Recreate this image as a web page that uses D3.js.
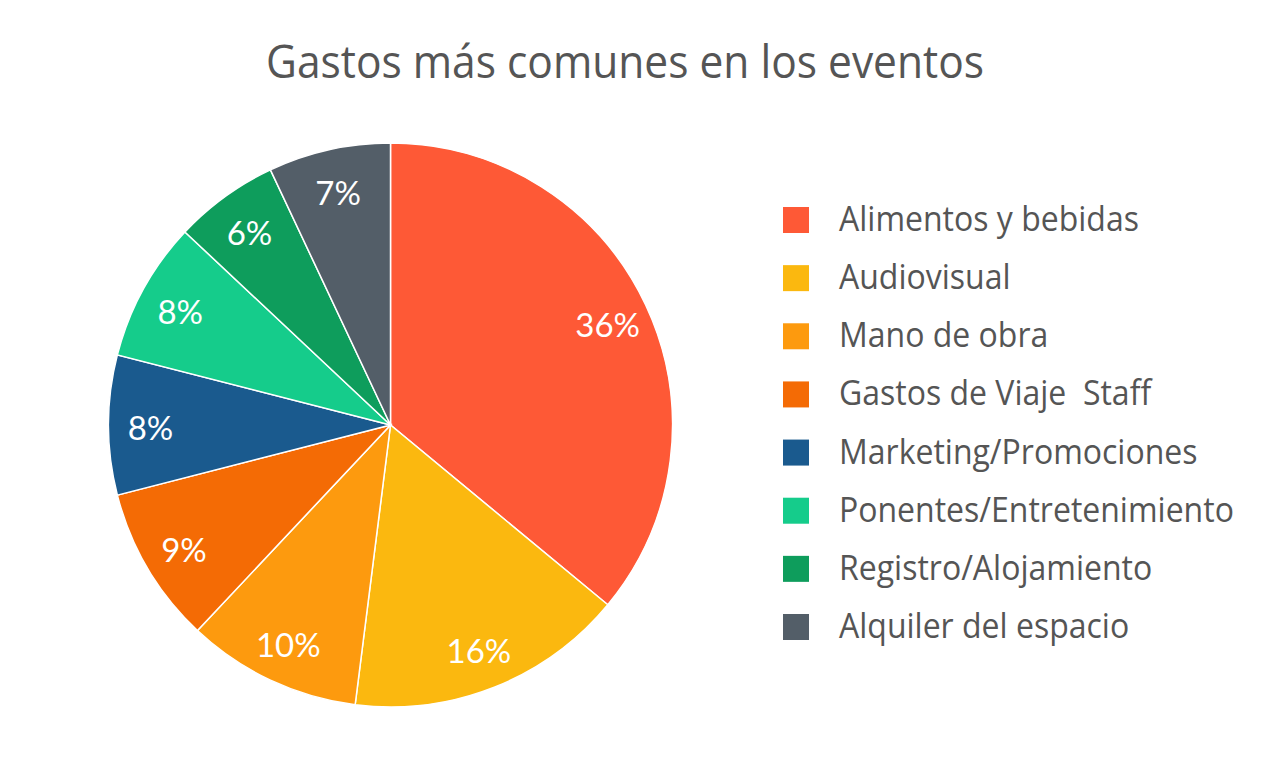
<!DOCTYPE html>
<html>
<head>
<meta charset="utf-8">
<script src="https://cdn.jsdelivr.net/npm/d3@7"></script>
<style>
  body { margin: 0; background: #fff; }
  svg { display: block; }
</style>
</head>
<body>
<script>
const categories = ['Alimentos y bebidas', 'Audiovisual', 'Mano de obra', 'Gastos de Viaje  Staff',
    'Marketing/Promociones', 'Ponentes/Entretenimiento', 'Registro/Alojamiento', 'Alquiler del espacio']
const values = [36, 16, 10, 9, 8, 8, 6, 7]
const colors = ['#fe5936', '#fbb80f', '#fd9a0e', '#f46b05', '#1a5a8e', '#15cc8b', '#0e9d5c', '#535e68']

const renderPie = () => {
    const w = 1280
    const h = 758
    const cx = 390.5
    const cy = 425
    const radius = 282

    const svg = d3.select('body')
        .append('svg')
            .attr('width', w)
            .attr('height', h)

    // title, stretched a little to match the taller original face
    svg.append('text')
        .attr('transform', 'translate(625, 78) scale(1, 1.06)')
        .attr('text-anchor', 'middle')
        .style('font-family', '"Open Sans", sans-serif')
        .style('font-size', '42.5px')
        .style('fill', '#555')
        .text('Gastos más comunes en los eventos')

    const data = categories.map((c, i) => ({ name: c, value: values[i], color: colors[i] }))

    const pie = d3.pie().sort(null).value(d => d.value)
    const arc = d3.arc().innerRadius(0).outerRadius(radius)
    const labelArc = d3.arc().innerRadius(240).outerRadius(240)

    const g = svg.append('g')
        .attr('transform', `translate(${cx}, ${cy})`)

    const slices = g.selectAll('.slice')
        .data(pie(data))
        .enter()
        .append('g')
            .attr('class', 'slice')

    slices.append('path')
        .attr('d', arc)
        .attr('fill', d => d.data.color)
        .attr('stroke', '#fff')
        .attr('stroke-width', 1.5)

    slices.append('text')
        .attr('transform', d => {
            const [x, y] = labelArc.centroid(d)
            return `translate(${x}, ${y + 3})`
        })
        .attr('text-anchor', 'middle')
        .attr('dy', '0.35em')
        .style('font-family', 'Lato, sans-serif')
        .style('font-size', '33px')
        .style('fill', '#fff')
        .text(d => d.data.value + '%')

    // Legend
    const legendY = d3.scalePoint()
        .domain(categories)
        .range([220, 627])

    const legend = svg.append('g')
        .attr('class', 'legend')

    const items = legend.selectAll('.item')
        .data(data)
        .enter()
        .append('g')
            .attr('class', 'item')
            .attr('transform', d => `translate(783, ${legendY(d.name)})`)

    items.append('rect')
        .attr('x', 0)
        .attr('y', -13)
        .attr('width', 26)
        .attr('height', 26)
        .attr('fill', d => d.color)

    items.append('text')
        .attr('transform', 'translate(56, 11) scale(1, 1.08)')
        .style('font-family', '"Open Sans", sans-serif')
        .style('font-size', '32px')
        .style('fill', '#555')
        .style('white-space', 'pre')
        .text(d => d.name)
}

renderPie()
</script>
</body>
</html>
